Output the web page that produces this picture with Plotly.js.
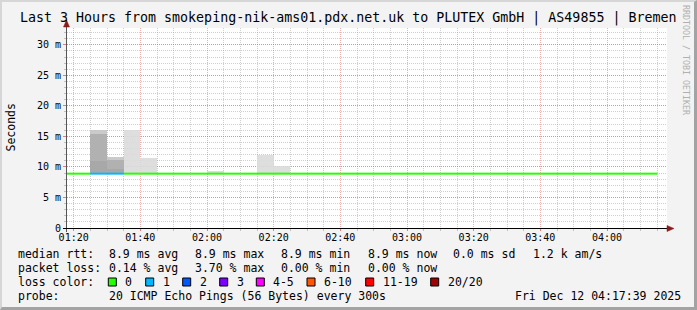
<!DOCTYPE html>
<html><head><meta charset="utf-8">
<script src="https://cdn.plot.ly/plotly-3.0.1.min.js"></script>
<style>
html,body{margin:0;padding:0;background:#f3f3f3;}
#frame{position:absolute;left:0;top:0;width:697px;height:310px;box-sizing:border-box;
 border-top:2px solid #d6d6d6;border-left:2px solid #d6d6d6;border-right:3px solid #a3a3a3;border-bottom:3px solid #a3a3a3;background:#f3f3f3;}
#chart{position:absolute;left:0;top:0;width:697px;height:310px;}
</style></head>
<body><div id="frame"></div><div id="chart"></div>
<script>
// ---- data ----
const stepEnd = ["01:20","01:25","01:30","01:35","01:40","01:45","01:50","01:55","02:00","02:05","02:10","02:15",
 "02:20","02:25","02:30","02:35","02:40","02:45","02:50","02:55","03:00","03:05","03:10","03:15",
 "03:20","03:25","03:30","03:35","03:40","03:45","03:50","03:55","04:00","04:05","04:10","04:15"];
const medianRtt = [8.9,8.9,8.9,8.9,8.9,8.9,8.9,8.9,8.9,8.9,8.9,8.9,
 8.9,8.9,8.9,8.9,8.9,8.9,8.9,8.9,8.9,8.9,8.9,8.9,
 8.9,8.9,8.9,8.9,8.9,8.9,8.9,8.9,8.9,8.9,8.9,8.9];
const lossCount = [0,0,1,1,0,0,0,0,0,0,0,0,
 0,0,0,0,0,0,0,0,0,0,0,0,
 0,0,0,0,0,0,0,0,0,0,0,0];
const smokeMax = [null,null,16.0,11.6,16.1,11.4,null,null,null,9.3,null,null,
 12.0,10.2,null,null,null,null,null,null,null,null,null,null,
 null,null,null,null,null,null,null,null,null,null,null,null];
const smokeMid = [null,null,15.4,11.15,null,null,null,null,null,null,null,null,
 null,null,null,null,null,null,null,null,null,null,null,null,
 null,null,null,null,null,null,null,null,null,null,null,null];
const smokeLow = [null,null,11.0,9.6,null,null,null,null,null,null,null,null,
 null,null,null,null,null,null,null,null,null,null,null,null,
 null,null,null,null,null,null,null,null,null,null,null,null];
const yTickVals = [0,5,10,15,20,25,30];
const yTickText = ["0","5 m","10 m","15 m","20 m","25 m","30 m"];
const lossLabels = ["0","1","2","3","4-5","6-10","11-19","20/20"];
const lossColors = ["#26ff00","#00b8ff","#0059ff","#7e00ff","#ff00ff","#ff5500","#ff0000","#a10000"];
const titleText = "Last 3 Hours from smokeping-nik-ams01.pdx.net.uk to PLUTEX GmbH | AS49855 | Bremen";
const rttStats = ["8.9 ms avg","8.9 ms max","8.9 ms min","8.9 ms now","0.0 ms sd","1.2 k am/s"];
const lossStats = ["0.14 % avg","3.70 % max","0.00 % min","0.00 % now"];
const probeText = "20 ICMP Echo Pings (56 Bytes) every 300s";
const stampText = "Fri Dec 12 04:17:39 2025";

// ---- build ----
const DAY = Date.UTC(2025,11,12);
const STEP = 300000;
function t2ms(s){const p=s.split(':').map(Number);return DAY+(p[0]*60+p[1])*60000;}
const ends = stepEnd.map(t2ms);
const centers = ends.map(e=>e-STEP/2);

const L=67, T=28, W=600, H=200;
const ax = x=>(x-L)/W, ay = y=>(T+H-y)/H;
const FONT = "DejaVu Sans Mono";

// grey given as alpha over white so the grid dots behind show faintly, like the original
function greyA(g){const a=0.9;const c=Math.round((g-255*(1-a))/a);return `rgba(${c},${c},${c},${a})`;}
function smokeTrace(top, colorFn){
  const xs=[],base=[],hs=[],cols=[];
  top.forEach((v,i)=>{ if(v!==null){ xs.push(centers[i]); base.push(medianRtt[i]); hs.push(v-medianRtt[i]); cols.push(colorFn(i)); }});
  return {type:'bar',x:xs,y:hs,base:base,width:xs.map(()=>STEP),marker:{color:cols,line:{width:0}},hoverinfo:'skip'};
}
const traces = [
  smokeTrace(smokeMax, i=> lossCount[i]>0 ? greyA(202) : greyA(222)),
  smokeTrace(smokeMid, ()=> greyA(182)),
  smokeTrace(smokeLow, ()=> '#a8a8a8')
];
const levels = [...new Set(lossCount)];
levels.forEach(lv=>{
  const xs=[],ys=[];
  lossCount.forEach((c,i)=>{ if(c===lv){ xs.push(ends[i]-STEP, ends[i], null); ys.push(medianRtt[i], medianRtt[i], null);} });
  traces.push({type:'scatter',mode:'lines',x:xs,y:ys,line:{color:lossColors[lv],width:2},hoverinfo:'skip'});
});

const ann = [];
function txt(x,y,text,opt){ ann.push(Object.assign({xref:'paper',yref:'paper',x:ax(x),y:ay(y),text:text,showarrow:false,
  xanchor:'left',yanchor:'middle',font:{family:FONT,size:11.5,color:'#000'}},opt||{})); }
txt(347.5,18,titleText,{xanchor:'center',font:{family:FONT,size:13.3,color:'#000'}});
txt(10.5,128,"Seconds",{xanchor:'center',textangle:-90,font:{family:FONT,size:11.5,color:'#000'}});
txt(686,60,"RRDTOOL / TOBI OETIKER",{xanchor:'center',textangle:90,font:{family:FONT,size:8.3,color:'#b0b0b0'}});
const col = [107.3,193.3,279.3,365.7,451,530.7];
txt(16,254,"median rtt:");
rttStats.forEach((s,i)=>txt(col[i],254,s));
txt(16,268,"packet loss:");
lossStats.forEach((s,i)=>txt(col[i],268,s));
txt(16,282,"loss color:");
const boxX = [108.3,145.7,182.7,219.7,256.3,307,365.7,430.7];
const shapes = [];
lossLabels.forEach((s,i)=>{
  shapes.push({type:'rect',xref:'paper',yref:'paper',x0:ax(boxX[i]),x1:ax(boxX[i]+8),y0:ay(286),y1:ay(278),
    fillcolor:lossColors[i],line:{color:'#000',width:1},layer:'above'});
  txt(boxX[i]+15,282,s);
});
txt(16,296,"probe:");
txt(107.3,296,probeText);
txt(513.3,296,stampText);

// axis extensions & arrows
shapes.push({type:'line',xref:'paper',yref:'paper',x0:ax(66.5),x1:ax(66.5),y0:ay(232),y1:ay(24),line:{color:'#555',width:1},layer:'above'});
shapes.push({type:'line',xref:'paper',yref:'paper',x0:ax(63),x1:ax(669),y0:ay(228.5),y1:ay(228.5),line:{color:'#000',width:1},layer:'above'});
shapes.push({type:'path',xref:'paper',yref:'paper',
  path:`M ${ax(66.5)} ${ay(20)} L ${ax(63.5)} ${ay(27)} L ${ax(69.5)} ${ay(27)} Z`,fillcolor:'#8b1a1a',line:{color:'#8b1a1a',width:0.5},layer:'above'});
shapes.push({type:'path',xref:'paper',yref:'paper',
  path:`M ${ax(674)} ${ay(228.5)} L ${ax(667)} ${ay(225.5)} L ${ax(667)} ${ay(231.5)} Z`,fillcolor:'#8b1a1a',line:{color:'#8b1a1a',width:0.5},layer:'above'});

const majorGrid='rgba(222,80,80,0.45)', minorGrid='rgba(140,140,140,0.42)';
const layout = {
  width:697,height:310,margin:{l:L,r:697-L-W,t:T,b:310-T-H,pad:0},
  paper_bgcolor:'rgba(0,0,0,0)',plot_bgcolor:'#ffffff',showlegend:false,barmode:'overlay',bargap:0,
  font:{family:FONT,color:'#000'},
  xaxis:{type:'date',range:[t2ms("01:18"),t2ms("04:18")],tick0:t2ms("01:20"),dtick:1200000,tickformat:'%H:%M',
    showgrid:true,gridcolor:majorGrid,griddash:'1px,1px',gridwidth:1,ticks:'outside',ticklen:2,tickcolor:'#e08080',
    ticklabelstandoff:-2,
    showline:false,zeroline:false,tickfont:{family:FONT,size:10,color:'#000'},fixedrange:true,
    minor:{dtick:STEP,showgrid:true,gridcolor:minorGrid,griddash:'1px,1px',ticks:'outside',ticklen:2,tickcolor:'#c0c0c0'}},
  yaxis:{range:[0,32.75],tickmode:'array',tickvals:yTickVals,ticktext:yTickText,
    showgrid:true,gridcolor:majorGrid,griddash:'1px,1px',gridwidth:1,ticks:'outside',ticklen:3,tickcolor:'#e08080',
    showline:false,zeroline:false,tickfont:{family:FONT,size:10,color:'#000'},fixedrange:true,
    minor:{tickmode:'linear',tick0:0,dtick:1,showgrid:true,gridcolor:minorGrid,griddash:'1px,1px',ticks:'outside',ticklen:2,tickcolor:'#c0c0c0'}},
  annotations:ann,shapes:shapes
};
Plotly.newPlot('chart',traces,layout,{staticPlot:true,displayModeBar:false});
</script></body></html>
